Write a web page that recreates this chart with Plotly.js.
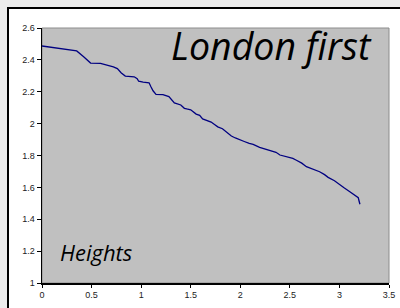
<!DOCTYPE html>
<html><head><meta charset="utf-8">
<script src="https://cdn.plot.ly/plotly-3.0.1.min.js"></script>
<style>
html,body{margin:0;padding:0;background:#ececec;width:400px;height:308px;overflow:hidden;}
#frame{position:absolute;left:7px;top:7px;width:400px;height:320px;background:#fff;border-left:2px solid #000;border-top:2px solid #000;}
#chart{position:absolute;left:0;top:0;width:400px;height:308px;}
</style></head>
<body>
<div id="frame"></div>
<div id="chart"></div>
<script>
const xValues = [0, 0.10, 0.20, 0.30, 0.35, 0.42, 0.49, 0.59, 0.66, 0.72, 0.76, 0.80, 0.84, 0.93, 0.96, 0.975, 1.02, 1.08, 1.10, 1.12, 1.15, 1.22, 1.28, 1.31, 1.335, 1.40, 1.436, 1.46, 1.50, 1.555, 1.59, 1.62, 1.66, 1.706, 1.74, 1.773, 1.82, 1.86, 1.91, 1.95, 1.99, 2.04, 2.09, 2.13, 2.195, 2.26, 2.33, 2.36, 2.40, 2.46, 2.53, 2.566, 2.62, 2.667, 2.73, 2.80, 2.85, 2.886, 2.95, 3.004, 3.05, 3.105, 3.14, 3.173, 3.19, 3.20, 3.207];
const heights = [2.487, 2.478, 2.468, 2.460, 2.456, 2.420, 2.380, 2.378, 2.368, 2.356, 2.345, 2.318, 2.298, 2.294, 2.282, 2.266, 2.260, 2.256, 2.230, 2.206, 2.184, 2.182, 2.170, 2.150, 2.130, 2.117, 2.096, 2.092, 2.087, 2.060, 2.052, 2.030, 2.022, 2.010, 1.995, 1.980, 1.968, 1.950, 1.922, 1.910, 1.898, 1.888, 1.876, 1.870, 1.851, 1.838, 1.824, 1.820, 1.803, 1.795, 1.782, 1.770, 1.752, 1.730, 1.715, 1.698, 1.680, 1.663, 1.642, 1.615, 1.596, 1.573, 1.558, 1.541, 1.535, 1.510, 1.494];
const xTicks = [0, 0.5, 1, 1.5, 2, 2.5, 3, 3.5];
const xTickLabels = ['0', '0.5', '1', '1.5', '2', '2.5', '3', '3.5'];
const yTicks = [1, 1.2, 1.4, 1.6, 1.8, 2, 2.2, 2.4, 2.6];
const yTickLabels = ['1', '1.2', '1.4', '1.6', '1.8', '2', '2.2', '2.4', '2.6'];
const titleText = 'London first';
const noteText = 'Heights';

const tickFont = {family: 'Liberation Sans, Arial, sans-serif', size: 9, color: '#222'};
Plotly.newPlot('chart', [{
  x: xValues, y: heights, type: 'scatter', mode: 'lines',
  line: {color: '#000080', width: 1.3, shape: 'linear'}, hoverinfo: 'none'
}], {
  width: 400, height: 308,
  margin: {l: 42, r: 11, t: 28, b: 25},
  paper_bgcolor: 'rgba(0,0,0,0)', plot_bgcolor: '#c0c0c0',
  showlegend: false,
  xaxis: {range: [0, 3.5], tickvals: xTicks, ticktext: xTickLabels, showgrid: false, zeroline: false,
          showline: true, linecolor: '#000', linewidth: 1.5, ticks: 'outside', ticklen: 3, tickcolor: '#000',
          tickfont: tickFont, fixedrange: true},
  yaxis: {range: [1, 2.6], tickvals: yTicks, ticktext: yTickLabels, showgrid: false, zeroline: false,
          showline: true, linecolor: '#000', linewidth: 1.5, ticks: 'outside', ticklen: 4, tickcolor: '#000',
          tickfont: tickFont, fixedrange: true},
  shapes: [{type: 'rect', xref: 'paper', yref: 'paper', x0: 0, x1: 1, y0: 0, y1: 1,
            line: {color: '#8c8c8c', width: 1}, layer: 'below'}],
  annotations: [
    {text: titleText, xref: 'paper', yref: 'paper', x: 0.957, y: 0.822, xanchor: 'right', yanchor: 'bottom',
     showarrow: false, font: {family: 'Open Sans, sans-serif', size: 37.5, color: '#000', style: 'italic'}},
    {text: noteText, xref: 'paper', yref: 'paper', x: 0.047, y: 0.055, xanchor: 'left', yanchor: 'bottom',
     showarrow: false, font: {family: 'Open Sans, sans-serif', size: 22, color: '#000', style: 'italic'}}
  ]
}, {displayModeBar: false, staticPlot: true});
</script>
</body></html>
